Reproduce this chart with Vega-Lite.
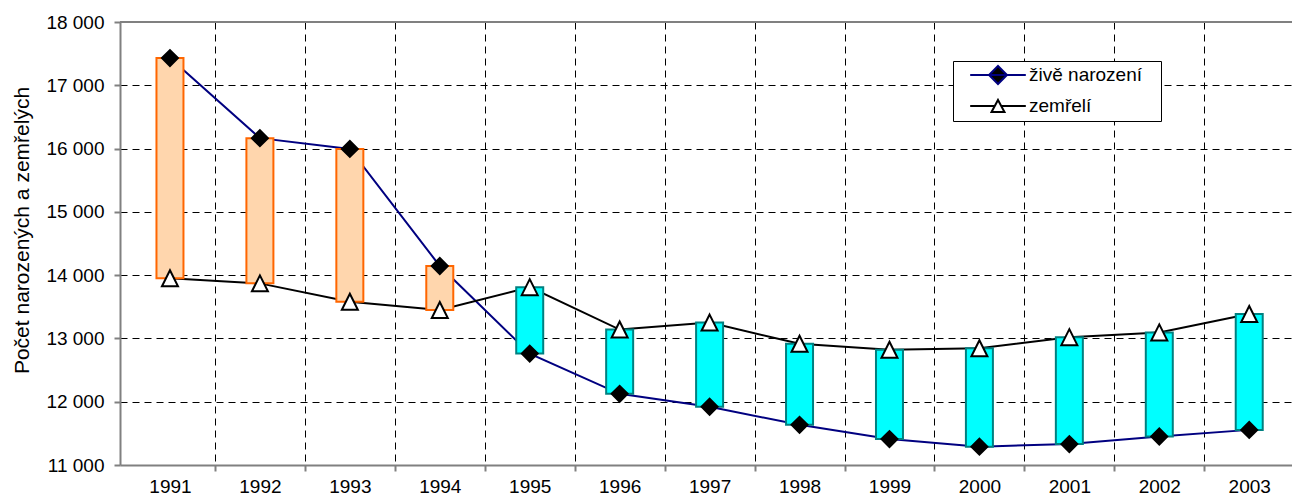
{
  "$schema": "https://vega.github.io/schema/vega-lite/v6.json",
  "width": 1172,
  "height": 443,
  "autosize": {"type": "none"},
  "padding": {"left": 120, "top": 22, "right": 0, "bottom": 32},
  "background": "white",
  "config": {"view": {"stroke": null}, "font": "Liberation Sans"},
  "data": {
    "values": [
      {"rok": 1991, "živě narození": 17430, "zemřelí": 13950},
      {"rok": 1992, "živě narození": 16165, "zemřelí": 13870},
      {"rok": 1993, "živě narození": 15995, "zemřelí": 13580},
      {"rok": 1994, "živě narození": 14145, "zemřelí": 13450},
      {"rok": 1995, "živě narození": 12760, "zemřelí": 13810},
      {"rok": 1996, "živě narození": 12125, "zemřelí": 13140},
      {"rok": 1997, "živě narození": 11920, "zemřelí": 13250},
      {"rok": 1998, "živě narození": 11635, "zemřelí": 12915},
      {"rok": 1999, "živě narození": 11410, "zemřelí": 12820},
      {"rok": 2000, "živě narození": 11290, "zemřelí": 12845},
      {"rok": 2001, "živě narození": 11330, "zemřelí": 13020},
      {"rok": 2002, "živě narození": 11450, "zemřelí": 13095},
      {"rok": 2003, "živě narození": 11555, "zemřelí": 13385}
    ]
  },
  "resolve": {"scale": {"shape": "independent", "fill": "independent", "stroke": "independent"}},
  "layer": [
    {
      "transform": [{"fold": ["živě narození", "zemřelí"], "as": ["serie", "hodnota"]}],
      "mark": {"type": "line", "strokeWidth": 2},
      "encoding": {
        "x": {
          "field": "rok", "type": "quantitative", "title": null,
          "scale": {"domain": [1990.5, 2003.42], "nice": false, "zero": false},
          "axis": {
            "values": [1991, 1991.5, 1992, 1992.5, 1993, 1993.5, 1994, 1994.5, 1995, 1995.5, 1996, 1996.5, 1997, 1997.5, 1998, 1998.5, 1999, 1999.5, 2000, 2000.5, 2001, 2001.5, 2002, 2002.5, 2003],
            "labelExpr": "datum.value % 1 === 0 ? '' + datum.value : ''",
            "grid": true, "gridColor": "#000000", "gridDash": [7, 5], "gridWidth": 1,
            "gridOpacity": {"condition": {"test": "datum.value % 1 === 0", "value": 0}, "value": 1},
            "tickOpacity": {"condition": {"test": "datum.value % 1 === 0", "value": 0}, "value": 1},
            "tickColor": "#808080", "tickWidth": 2, "tickSize": 6,
            "domainColor": "#808080", "domainWidth": 2,
            "labelFont": "Liberation Sans", "labelFontSize": 19, "labelColor": "#000000",
            "labelBaseline": "alphabetic",
            "labelPadding": 21, "labelFlush": false, "labelOverlap": false
          }
        },
        "y": {
          "field": "hodnota", "type": "quantitative", "title": "Počet narozených a zemřelých",
          "scale": {"domain": [11000, 18000], "nice": false, "zero": false},
          "axis": {
            "values": [11000, 12000, 13000, 14000, 15000, 16000, 17000, 18000],
            "labelExpr": "replace(format(datum.value, ','), ',', ' ')",
            "grid": true, "gridColor": "#000000", "gridDash": [7, 5], "gridWidth": 1,
            "gridOpacity": {"condition": {"test": "datum.value === 11000 || datum.value === 18000", "value": 0}, "value": 1},
            "tickColor": "#808080", "tickWidth": 2, "tickSize": 6,
            "domainColor": "#808080", "domainWidth": 2,
            "labelFont": "Liberation Sans", "labelFontSize": 19, "labelColor": "#000000", "labelPadding": 10,
            "titleFont": "Liberation Sans", "titleFontSize": 21, "titleFontWeight": "normal", "titleColor": "#000000",
            "titleAngle": -90, "titleBaseline": "alphabetic", "titleAlign": "center",
            "titleX": -92, "titleY": 208
          }
        },
        "detail": {"field": "serie", "type": "nominal"},
        "stroke": {"condition": {"test": "datum.serie === 'zemřelí'", "value": "#000000"}, "value": "#000080"}
      }
    },
    {
      "data": {"values": [{"hranice": 18000}]},
      "mark": {"type": "rule", "color": "#808080", "strokeWidth": 2},
      "encoding": {"y": {"field": "hranice", "type": "quantitative", "title": "Počet narozených a zemřelých"}}
    },
    {
      "mark": {"type": "bar", "width": 27, "strokeWidth": 2},
      "encoding": {
        "x": {"field": "rok", "type": "quantitative", "title": null},
        "y": {"field": "živě narození", "type": "quantitative", "title": "Počet narozených a zemřelých"},
        "y2": {"field": "zemřelí"},
        "fill": {"condition": {"test": "datum['živě narození'] > datum['zemřelí']", "value": "#FFD6AD"}, "value": "#00FFFF"},
        "stroke": {"condition": {"test": "datum['živě narození'] > datum['zemřelí']", "value": "#FF6600"}, "value": "#008080"}
      }
    },
    {
      "transform": [{"fold": ["živě narození", "zemřelí"], "as": ["serie", "hodnota"]}],
      "mark": {"type": "point", "size": 256, "strokeWidth": 2, "opacity": 1, "stroke": "#000000"},
      "encoding": {
        "x": {"field": "rok", "type": "quantitative", "title": null},
        "y": {"field": "hodnota", "type": "quantitative", "title": "Počet narozených a zemřelých"},
        "shape": {
          "field": "serie", "type": "nominal",
          "scale": {"domain": ["živě narození", "zemřelí"], "range": ["diamond", "M0,-1L1,1L-1,1Z"]},
          "legend": null
        },
        "fill": {"condition": {"test": "datum.serie === 'zemřelí'", "value": "#ffffff"}, "value": "#000000"}
      }
    },
    {
      "transform": [{"fold": ["živě narození", "zemřelí"], "as": ["serie", "hodnota"]}],
      "mark": {"type": "point", "size": 324, "strokeWidth": 2, "opacity": 0, "filled": false},
      "encoding": {
        "x": {"field": "rok", "type": "quantitative", "title": null},
        "y": {"field": "hodnota", "type": "quantitative", "title": "Počet narozených a zemřelých"},
        "shape": {
          "field": "serie", "type": "nominal",
          "scale": {"domain": ["živě narození", "zemřelí"], "range": ["M-3.09,0H3.09M0,-1L1,0L0,1L-1,0Z", "M-3.09,0H-0.36M0.36,0H3.09M0,-0.67L0.72,0.67L-0.72,0.67Z"]},
          "legend": {
            "orient": "none", "legendX": 833, "legendY": 39,
            "title": null, "padding": 4,
            "fillColor": "#ffffff", "strokeColor": "#000000",
            "labelFont": "Liberation Sans", "labelFontSize": 19, "labelColor": "#000000",
            "labelExpr": "datum.label + '\u2800'", "labelLimit": 400,
            "symbolSize": 324, "symbolStrokeWidth": 2, "symbolOpacity": 1,
            "symbolOffset": 31, "labelOffset": 21, "rowPadding": 7
          }
        },
        "fill": {
          "field": "serie", "type": "nominal",
          "scale": {"domain": ["živě narození", "zemřelí"], "range": ["#000000", "#ffffff"]},
          "legend": {
            "orient": "none", "legendX": 833, "legendY": 39,
            "title": null, "padding": 4,
            "fillColor": "#ffffff", "strokeColor": "#000000",
            "labelFont": "Liberation Sans", "labelFontSize": 19, "labelColor": "#000000",
            "labelExpr": "datum.label + '\u2800'", "labelLimit": 400,
            "symbolSize": 324, "symbolStrokeWidth": 2, "symbolOpacity": 1,
            "symbolOffset": 31, "labelOffset": 21, "rowPadding": 7
          }
        },
        "stroke": {
          "field": "serie", "type": "nominal",
          "scale": {"domain": ["živě narození", "zemřelí"], "range": ["#000080", "#000000"]},
          "legend": {
            "orient": "none", "legendX": 833, "legendY": 39,
            "title": null, "padding": 4,
            "fillColor": "#ffffff", "strokeColor": "#000000",
            "labelFont": "Liberation Sans", "labelFontSize": 19, "labelColor": "#000000",
            "labelExpr": "datum.label + '\u2800'", "labelLimit": 400,
            "symbolSize": 324, "symbolStrokeWidth": 2, "symbolOpacity": 1,
            "symbolOffset": 31, "labelOffset": 21, "rowPadding": 7
          }
        }
      }
    }
  ]
}
